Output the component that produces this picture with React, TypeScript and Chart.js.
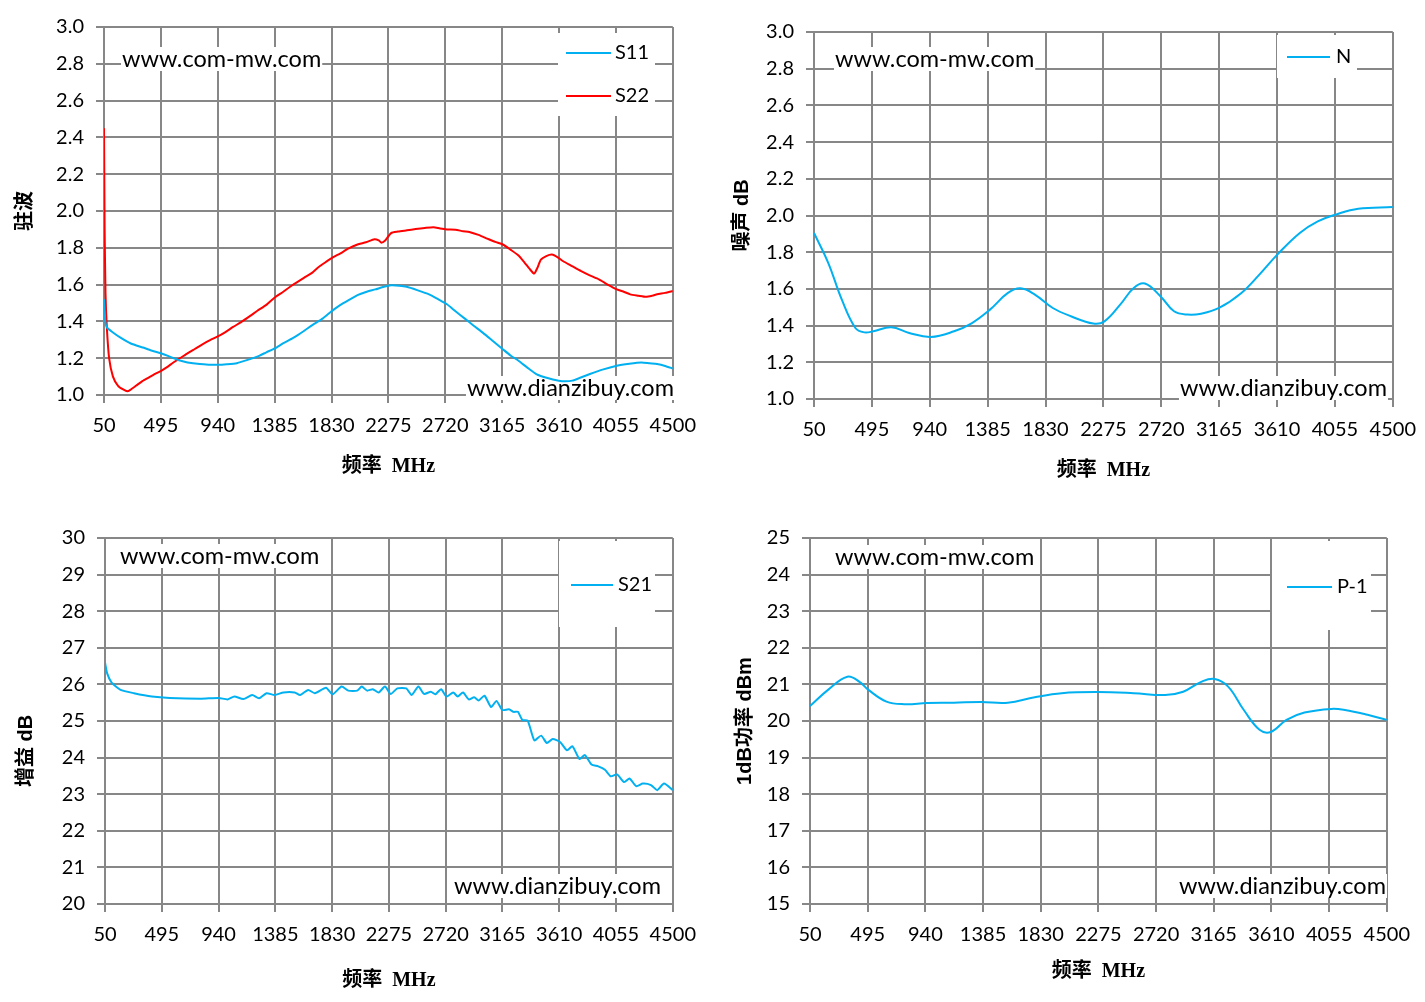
import { useEffect, useRef } from "react"
import { Chart, registerables } from "chart.js"

Chart.register(...registerables)

// shared x axis (MHz)
const freqTicks = [50, 495, 940, 1385, 1830, 2275, 2720, 3165, 3610, 4055, 4500]
const vswrTicks = [1.0, 1.2, 1.4, 1.6, 1.8, 2.0, 2.2, 2.4, 2.6, 2.8, 3.0]
const noiseTicks = [1.0, 1.2, 1.4, 1.6, 1.8, 2.0, 2.2, 2.4, 2.6, 2.8, 3.0]
const gainTicks = [20, 21, 22, 23, 24, 25, 26, 27, 28, 29, 30]
const p1Ticks = [15, 16, 17, 18, 19, 20, 21, 22, 23, 24, 25]

// VSWR - S11
const s11Freq = [50, 60, 74, 120, 179, 260, 354, 420, 494, 560, 630, 704, 800, 870, 940, 1010, 1089, 1180, 1264, 1320, 1386, 1450, 1530, 1614, 1680, 1760, 1834, 1900, 1970, 2033, 2100, 2173, 2240, 2296, 2360, 2418, 2500, 2593, 2660, 2733, 2800, 2873, 2940, 3013, 3090, 3170, 3230, 3293, 3360, 3432, 3520, 3608, 3660, 3713, 3780, 3852, 3950, 4062, 4160, 4255, 4320, 4377, 4440, 4500]
const s11Vswr = [1.52, 1.4, 1.366, 1.34, 1.312, 1.28, 1.258, 1.242, 1.227, 1.21, 1.19, 1.177, 1.168, 1.165, 1.164, 1.167, 1.173, 1.192, 1.213, 1.232, 1.253, 1.28, 1.31, 1.348, 1.38, 1.415, 1.457, 1.49, 1.518, 1.543, 1.56, 1.574, 1.588, 1.596, 1.594, 1.588, 1.57, 1.547, 1.522, 1.493, 1.455, 1.415, 1.378, 1.339, 1.295, 1.249, 1.215, 1.186, 1.15, 1.114, 1.092, 1.078, 1.075, 1.078, 1.095, 1.114, 1.138, 1.159, 1.17, 1.177, 1.172, 1.168, 1.158, 1.144]

// VSWR - S22
const s22Freq = [50, 55, 62, 72, 90, 120, 160, 200, 232, 260, 300, 350, 400, 450, 494, 540, 590, 634, 700, 760, 820, 880, 940, 1000, 1060, 1120, 1194, 1250, 1320, 1386, 1450, 1520, 1614, 1680, 1720, 1780, 1834, 1900, 1960, 2033, 2100, 2166, 2200, 2220, 2250, 2296, 2350, 2420, 2488, 2560, 2628, 2680, 2733, 2800, 2860, 2908, 2980, 3048, 3110, 3170, 3230, 3293, 3340, 3380, 3415, 3440, 3468, 3510, 3555, 3600, 3643, 3700, 3783, 3850, 3922, 3990, 4062, 4120, 4167, 4230, 4290, 4340, 4377, 4440, 4500]
const s22Vswr = [2.45, 1.9, 1.55, 1.37, 1.2, 1.1, 1.05, 1.03, 1.02, 1.03, 1.05, 1.075, 1.095, 1.115, 1.13, 1.15, 1.175, 1.195, 1.225, 1.25, 1.275, 1.298, 1.318, 1.342, 1.37, 1.395, 1.43, 1.458, 1.49, 1.53, 1.56, 1.595, 1.637, 1.665, 1.69, 1.72, 1.745, 1.77, 1.795, 1.818, 1.83, 1.847, 1.84, 1.828, 1.84, 1.88, 1.888, 1.895, 1.902, 1.908, 1.912, 1.905, 1.9, 1.898, 1.89, 1.886, 1.87, 1.85, 1.832, 1.818, 1.79, 1.758, 1.72, 1.685, 1.66, 1.69, 1.736, 1.755, 1.763, 1.748, 1.727, 1.705, 1.673, 1.65, 1.628, 1.6, 1.574, 1.56, 1.547, 1.54, 1.534, 1.54, 1.547, 1.555, 1.565]

// noise figure
const nFreq = [50, 160, 264, 368, 437, 506, 644, 782, 948, 1127, 1265, 1403, 1541, 1638, 1748, 1886, 2025, 2197, 2283, 2404, 2508, 2594, 2715, 2818, 2922, 3026, 3164, 3336, 3474, 3612, 3785, 3923, 4061, 4234, 4500]
const nDb = [1.905, 1.741, 1.541, 1.387, 1.363, 1.369, 1.391, 1.36, 1.338, 1.369, 1.414, 1.487, 1.578, 1.603, 1.569, 1.496, 1.451, 1.411, 1.423, 1.514, 1.605, 1.629, 1.559, 1.478, 1.46, 1.465, 1.496, 1.578, 1.678, 1.787, 1.905, 1.968, 2.005, 2.037, 2.046]

// gain S21
const s21Freq = [50, 67, 102, 172, 277, 417, 557, 802, 942, 1012, 1064, 1134, 1204, 1257, 1316, 1379, 1449, 1537, 1579, 1642, 1694, 1782, 1834, 1904, 1957, 2027, 2062, 2104, 2149, 2195, 2244, 2289, 2341, 2411, 2453, 2506, 2551, 2604, 2639, 2684, 2726, 2779, 2814, 2856, 2901, 2943, 2978, 3024, 3076, 3118, 3164, 3216, 3251, 3286, 3321, 3363, 3415, 3468, 3513, 3559, 3618, 3671, 3713, 3769, 3811, 3863, 3916, 3968, 4014, 4063, 4119, 4161, 4213, 4265, 4329, 4378, 4431, 4500]
const s21Db = [26.6, 26.3, 26.05, 25.85, 25.76, 25.67, 25.63, 25.61, 25.63, 25.59, 25.67, 25.6, 25.71, 25.62, 25.76, 25.71, 25.78, 25.78, 25.71, 25.85, 25.76, 25.91, 25.73, 25.94, 25.83, 25.83, 25.94, 25.83, 25.87, 25.78, 25.94, 25.74, 25.89, 25.89, 25.71, 25.94, 25.74, 25.8, 25.73, 25.87, 25.67, 25.78, 25.67, 25.78, 25.59, 25.65, 25.56, 25.69, 25.38, 25.55, 25.3, 25.32, 25.25, 25.25, 25.03, 25.01, 24.47, 24.6, 24.4, 24.51, 24.42, 24.2, 24.31, 23.96, 24.07, 23.81, 23.76, 23.67, 23.49, 23.54, 23.33, 23.43, 23.22, 23.29, 23.25, 23.11, 23.29, 23.11]

// P-1dB output power
const p1Freq = [50, 189, 338, 432, 501, 640, 778, 952, 1160, 1368, 1576, 1784, 1992, 2270, 2547, 2790, 2929, 3068, 3172, 3276, 3397, 3518, 3605, 3726, 3865, 4073, 4177, 4351, 4500]
const p1Dbm = [20.41, 20.85, 21.21, 21.07, 20.85, 20.53, 20.46, 20.49, 20.5, 20.52, 20.5, 20.65, 20.76, 20.79, 20.76, 20.71, 20.8, 21.07, 21.15, 20.94, 20.3, 19.76, 19.7, 20.03, 20.23, 20.33, 20.3, 20.17, 20.03]

const BLUE = "#00b0f0"
const RED = "#ff0000"
const GRID = "#878787"
const TICK_FONT = "Lato"
const PAD_TOP = 24
const PAD_RIGHT = 32
const X_TITLE_FONT = '"Liberation Serif", "Noto Sans CJK SC"'
const Y_TITLE_FONT = '"Liberation Sans", "Noto Sans CJK SC"'

type Series = { label: string; freq: number[]; values: number[]; color: string; tension: number }
type Mark = { text: string; x: number; y: number; align: "left" | "right" }
type LegendBox = { x: number; y: number; w: number; h: number; lineX0: number; lineX1: number; textX: number; rowY: number[] }
type Panel = {
  plot: { left: number; top: number; right: number; bottom: number }
  yTitleX: number
  xTitleY: number
  yTitle: string
  yTicks: number[]
  yDecimals: number
  series: Series[]
  legend: LegendBox
  marks: Mark[]
}

const panels: Panel[] = [
  {
    plot: { left: 104, top: 27, right: 672, bottom: 395 },
    yTitleX: 25,
    xTitleY: 467,
    yTitle: "驻波",
    yTicks: vswrTicks,
    yDecimals: 1,
    series: [
      { label: "S11", freq: s11Freq, values: s11Vswr, color: BLUE, tension: 0.2 },
      { label: "S22", freq: s22Freq, values: s22Vswr, color: RED, tension: 0.2 },
    ],
    legend: { x: 558, y: 33, w: 97, h: 83, lineX0: 566, lineX1: 611, textX: 615, rowY: [53, 96] },
    marks: [
      { text: "www.com-mw.com", x: 122, y: 59, align: "left" },
      { text: "www.dianzibuy.com", x: 674, y: 388, align: "right" },
    ],
  },
  {
    plot: { left: 814, top: 32, right: 1392, bottom: 399 },
    yTitleX: 742,
    xTitleY: 471,
    yTitle: "噪声 dB",
    yTicks: noiseTicks,
    yDecimals: 1,
    series: [{ label: "N", freq: nFreq, values: nDb, color: BLUE, tension: 0.4 }],
    legend: { x: 1277, y: 35, w: 80, h: 43, lineX0: 1287, lineX1: 1330, textX: 1336, rowY: [57] },
    marks: [
      { text: "www.com-mw.com", x: 835, y: 59, align: "left" },
      { text: "www.dianzibuy.com", x: 1387, y: 388, align: "right" },
    ],
  },
  {
    plot: { left: 105, top: 538, right: 672, bottom: 904 },
    yTitleX: 26,
    xTitleY: 981,
    // title sits below the plot middle in the original
    yTitle: "增益 dB\u3000\u3000\u3000",
    yTicks: gainTicks,
    yDecimals: 0,
    series: [{ label: "S21", freq: s21Freq, values: s21Db, color: BLUE, tension: 0.2 }],
    legend: { x: 559, y: 541, w: 96, h: 86, lineX0: 571, lineX1: 613, textX: 618, rowY: [585] },
    marks: [
      { text: "www.com-mw.com", x: 120, y: 556, align: "left" },
      { text: "www.dianzibuy.com", x: 661, y: 886, align: "right" },
    ],
  },
  {
    plot: { left: 810, top: 538, right: 1386, bottom: 904 },
    yTitleX: 745,
    xTitleY: 972,
    yTitle: "1dB功率 dBm",
    yTicks: p1Ticks,
    yDecimals: 0,
    series: [{ label: "P-1", freq: p1Freq, values: p1Dbm, color: BLUE, tension: 0.4 }],
    legend: { x: 1272, y: 541, w: 99, h: 89, lineX0: 1287, lineX1: 1332, textX: 1337, rowY: [587] },
    marks: [
      { text: "www.com-mw.com", x: 835, y: 557, align: "left" },
      { text: "www.dianzibuy.com", x: 1386, y: 886, align: "right" },
    ],
  },
]

function PanelChart({ panel }: { panel: Panel }) {
  const chartRef = useRef<HTMLCanvasElement>(null)
  const { plot } = panel
  const left = panel.yTitleX - 12
  const top = plot.top - PAD_TOP
  // +3: chart.js eats a few px on the right for the last tick label
  const width = plot.right + PAD_RIGHT + 3 - left
  const height = panel.xTitleY + 12 - top

  useEffect(() => {
    if (!chartRef.current) return
    const ctx = chartRef.current.getContext("2d")
    if (!ctx) return

    const axisW = plot.left - left
    const axisH = panel.xTitleY + 12 - plot.bottom

    // watermark text (white backed) and legend box, in page coords shifted to canvas
    const overlay = {
      id: "overlay",
      beforeDatasetsDraw(chart: Chart) {
        const c = chart.ctx
        c.save()
        c.font = `23.5px ${TICK_FONT}`
        c.textBaseline = "middle"
        panel.marks.forEach((m) => {
          const w = c.measureText(m.text).width
          const x = (m.align === "left" ? m.x : m.x - w) - left
          const y = m.y - top
          c.fillStyle = "#ffffff"
          c.fillRect(x - 1, y - 12, w + 2, 24)
          c.fillStyle = "#000000"
          c.textAlign = "left"
          c.fillText(m.text, x, y)
        })
        c.restore()
      },
      afterDatasetsDraw(chart: Chart) {
        const c = chart.ctx
        const lg = panel.legend
        c.save()
        c.fillStyle = "#ffffff"
        c.fillRect(lg.x - left, lg.y - top, lg.w, lg.h)
        c.font = `20px ${TICK_FONT}`
        c.textBaseline = "middle"
        c.textAlign = "left"
        chart.data.datasets.forEach((ds, i) => {
          const y = lg.rowY[i] - top
          c.strokeStyle = ds.borderColor as string
          c.lineWidth = 2
          c.beginPath()
          c.moveTo(lg.lineX0 - left, y)
          c.lineTo(lg.lineX1 - left, y)
          c.stroke()
          c.fillStyle = "#000000"
          c.fillText(ds.label ?? "", lg.textX - left, y)
        })
        c.restore()
      },
    }

    const chart = new Chart(ctx, {
      type: "line",
      data: {
        datasets: panel.series.map((s) => ({
          label: s.label,
          data: s.freq.map((f, i) => ({ x: f, y: s.values[i] })),
          borderColor: s.color,
          backgroundColor: s.color,
          borderWidth: 2,
          pointRadius: 0,
          tension: s.tension,
          fill: false,
        })),
      },
      options: {
        responsive: true,
        maintainAspectRatio: false,
        animation: false,
        layout: { padding: { top: PAD_TOP, right: PAD_RIGHT, left: 0, bottom: 0 } },
        plugins: {
          legend: { display: false },
          tooltip: { enabled: false },
        },
        scales: {
          x: {
            type: "linear",
            min: freqTicks[0],
            max: freqTicks[freqTicks.length - 1],
            afterBuildTicks: (scale) => {
              scale.ticks = freqTicks.map((v) => ({ value: v }))
            },
            afterFit: (scale) => {
              scale.height = axisH
            },
            ticks: {
              autoSkip: false,
              maxRotation: 0,
              minRotation: 0,
              padding: 11,
              color: "#000000",
              font: { family: TICK_FONT, size: 20 },
              callback: (v) => String(v),
            },
            grid: { color: GRID, lineWidth: 2, tickLength: 8, tickColor: GRID },
            border: { color: GRID, width: 2 },
            title: {
              display: true,
              text: "频率  MHz",
              color: "#000000",
              padding: 0,
              font: { family: X_TITLE_FONT, size: 20, weight: "bold", lineHeight: 1.2 },
            },
          },
          y: {
            type: "linear",
            min: panel.yTicks[0],
            max: panel.yTicks[panel.yTicks.length - 1],
            afterBuildTicks: (scale) => {
              scale.ticks = panel.yTicks.map((v) => ({ value: v }))
            },
            afterFit: (scale) => {
              scale.width = axisW
            },
            ticks: {
              padding: 12,
              color: "#000000",
              font: { family: TICK_FONT, size: 20 },
              callback: (v) => Number(v).toFixed(panel.yDecimals),
            },
            grid: { color: GRID, lineWidth: 2, tickLength: 8, tickColor: GRID },
            border: { color: GRID, width: 2 },
            title: {
              display: true,
              text: panel.yTitle,
              color: "#000000",
              padding: 0,
              font: { family: Y_TITLE_FONT, size: 20, weight: "bold", lineHeight: 1.2 },
            },
          },
        },
      },
      plugins: [overlay],
    })

    return () => {
      chart.destroy()
    }
  }, [panel])

  return (
    <div style={{ position: "absolute", left, top, width, height }}>
      <canvas ref={chartRef} />
    </div>
  )
}

export default function App() {
  return (
    <div style={{ position: "absolute", left: 0, top: 0, width: 1425, height: 1002, background: "#ffffff" }}>
      {panels.map((p) => (
        <PanelChart key={p.yTitle} panel={p} />
      ))}
    </div>
  )
}
